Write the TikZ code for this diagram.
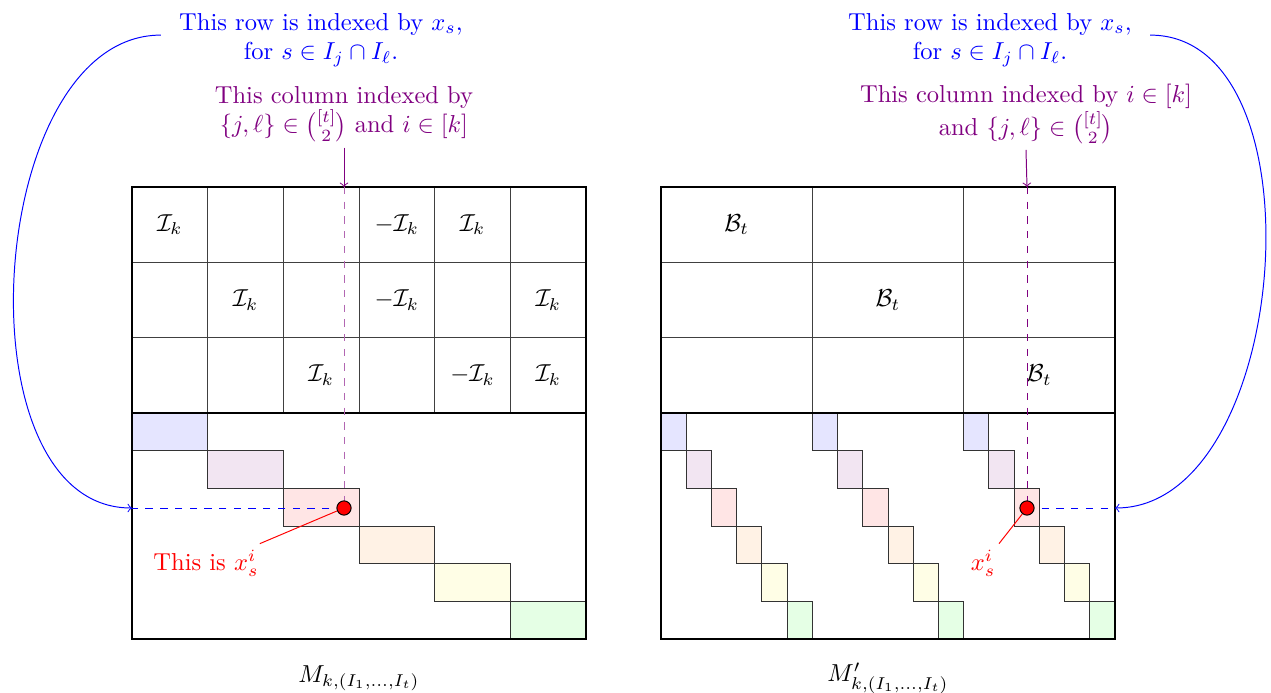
\documentclass[tikz,border=0pt]{standalone}
\usepackage{amsmath}
\begin{document}
\begin{tikzpicture}[x=0.408pt,y=-0.408pt,
  thickline/.style={line width=0.8pt,black},
  gridline/.style={line width=0.4pt,black!75},
  blk/.style={draw=black!80,line width=0.4pt},
  bluetxt/.style={text=blue,align=center},
  purptxt/.style={text=violet,align=center},
  reddot/.style={circle,fill=red,draw=black,line width=0.4pt,minimum size=5.8pt,inner sep=0pt},
  redtxt/.style={text=red},
  celltxt/.style={inner sep=1pt}]
\useasboundingbox (0,0) rectangle (1271,693);

% ---------- left matrix ----------
\foreach \i/\c in {0/blue,1/violet,2/red,3/orange,4/yellow,5/green}
  \filldraw[blk,fill=\c!10] ({132+\i*75.667},{413+\i*37.667}) rectangle ++(75.667,37.667);
\foreach \k in {1,...,5}
  \draw[gridline] ({132+\k*75.667},187) -- ({132+\k*75.667},413);
\draw[gridline] (132,262.33) -- (586,262.33);
\draw[gridline] (132,337.67) -- (586,337.67);
\draw[thickline] (132,187) rectangle (586,639);
\draw[thickline] (132,413) -- (586,413);

\node[celltxt] (a11) at (169.8,224.7) {$\mathcal{I}_k$};
\node[celltxt] (a14) at (396.8,224.7) {$-\mathcal{I}_k$};
\node[celltxt] (a15) at (472.5,224.7) {$\mathcal{I}_k$};
\node[celltxt] (a22) at (245.5,300) {$\mathcal{I}_k$};
\node[celltxt] (a24) at (396.8,300) {$-\mathcal{I}_k$};
\node[celltxt] (a26) at (548.2,300) {$\mathcal{I}_k$};
\node[celltxt] (a33) at (321.2,375.3) {$\mathcal{I}_k$};
\node[celltxt] (a35) at (472.5,375.3) {$-\mathcal{I}_k$};
\node[celltxt] (a36) at (548.2,375.3) {$\mathcal{I}_k$};

% ---------- right matrix ----------
\foreach \g in {0,1,2}
  \foreach \i/\c in {0/blue,1/violet,2/red,3/orange,4/yellow,5/green}
    \filldraw[blk,fill=\c!10] ({661+\g*151.333+\i*25.222},{413+\i*37.667}) rectangle ++(25.222,37.667);
\draw[gridline] (812.33,187) -- (812.33,413);
\draw[gridline] (963.67,187) -- (963.67,413);
\draw[gridline] (661,262.33) -- (1115,262.33);
\draw[gridline] (661,337.67) -- (1115,337.67);
\draw[thickline] (661,187) rectangle (1115,639);
\draw[thickline] (661,413) -- (1115,413);

\node[celltxt] (b11) at (736.7,224.7) {$\mathcal{B}_t$};
\node[celltxt] (b22) at (888,300) {$\mathcal{B}_t$};
\node[celltxt] (b33) at (1039.3,375.3) {$\mathcal{B}_t$};

% ---------- annotations left ----------
\coordinate (T1) at (344,187);
\coordinate (L1) at (132,508);
\node[purptxt] (c1) at (344,114) {This column indexed by\\ $\{j,\ell\}\in\binom{[t]}{2}$ and $i\in[k]$};
\node[bluetxt] (r1) at (321,40) {This row is indexed by $x_s$,\\ for $s\in I_j\cap I_\ell$.};
\draw[violet!60,dashed] (T1) -- (344,508);
\draw[blue,dashed] (344,508) -- (L1);
\node[reddot] (d1) at (344,508) {};
\draw[violet,->] ([yshift=1pt]c1.south) -- (T1);
\draw[blue,->] ([xshift=-4pt,yshift=2pt]r1.west) to[out=180,in=180,looseness=0.95] (L1);
\node[redtxt] (x1) at (206,563) {This is $x_s^i$};
\draw[red] (d1) -- ([xshift=-3pt,yshift=-1pt]x1.north east);

% ---------- annotations right ----------
\coordinate (T2) at (1027,187);
\coordinate (R2) at (1115,508);
\node[purptxt] (c2) at (1026,114) {This column indexed by $i\in[k]$\\ and $\{j,\ell\}\in\binom{[t]}{2}$};
\node[bluetxt] (r2) at (990,40) {This row is indexed by $x_s$,\\ for $s\in I_j\cap I_\ell$.};
\draw[violet,dashed] (T2) -- (1027,508);
\draw[blue,dashed] (1027,508) -- (R2);
\node[reddot] (d2) at (1027,508) {};
\draw[violet,->] ([yshift=1pt]c2.south) -- (T2);
\draw[blue,->] ([xshift=4pt,yshift=2pt]r2.east) to[out=0,in=0,looseness=0.95] (R2);
\node[redtxt] (x2) at (983,563) {$x_s^i$};
\draw[red] (d2) -- ([xshift=-2pt,yshift=-1pt]x2.north east);

% ---------- captions ----------
\node (m1) at (359,678) {$M_{k,(I_1,\dots,I_t)}$};
\node (m2) at (888,678) {$M'_{k,(I_1,\dots,I_t)}$};
\end{tikzpicture}
\end{document}
